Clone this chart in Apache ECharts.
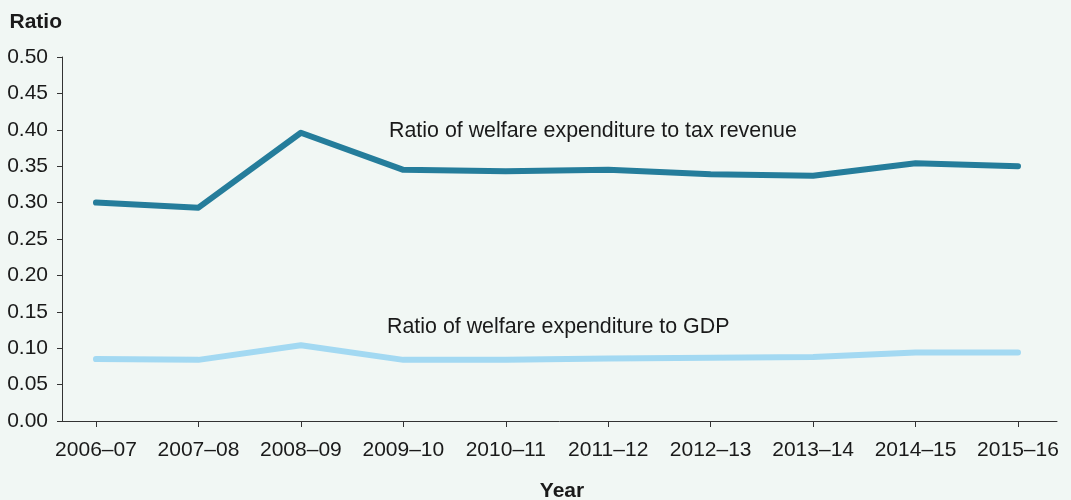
<!DOCTYPE html>
<html>
<head>
<meta charset="utf-8">
<script src="https://cdn.jsdelivr.net/npm/echarts@6/dist/echarts.min.js"></script>
<style>
html,body{margin:0;padding:0;background:#F1F7F4;}
#chart{width:1071px;height:500px;}
</style>
</head>
<body>
<div id="chart"></div>
<script>
var categories = ['2006\u201307','2007\u201308','2008\u201309','2009\u201310','2010\u201311','2011\u201312','2012\u201313','2013\u201314','2014\u201315','2015\u201316'];
var taxRatio = [0.300, 0.293, 0.396, 0.345, 0.343, 0.345, 0.339, 0.337, 0.354, 0.350];
var gdpRatio = [0.085, 0.084, 0.104, 0.084, 0.084, 0.086, 0.087, 0.088, 0.094, 0.094];
var seriesNames = ['Ratio of welfare expenditure to tax revenue', 'Ratio of welfare expenditure to GDP'];
var yTicks = {min: 0, max: 0.5, interval: 0.05};

var FONT = 'Liberation Sans, Arial, sans-serif';
var TXT = '#1a1a1a';
var AX = '#333333';

var chart = echarts.init(document.getElementById('chart'), null, {renderer: 'canvas'});
chart.setOption({
  backgroundColor: '#F1F7F4',
  animation: false,
  textStyle: {fontFamily: FONT},
  grid: [
    {left: 96, right: 53, top: 57, bottom: 79, containLabel: false, outerBoundsMode: 'none'},
    {left: 62, right: 14, top: 57, bottom: 79, containLabel: false, outerBoundsMode: 'none'}
  ],
  xAxis: [
    {
      type: 'category', gridIndex: 0, data: categories, boundaryGap: false,
      axisLine: {show: false},
      axisTick: {show: true, length: 6, alignWithLabel: true, lineStyle: {color: AX, width: 1}},
      axisLabel: {margin: 19, color: TXT, fontSize: 21, fontFamily: FONT, interval: 0},
      splitLine: {show: false}
    },
    {
      type: 'value', gridIndex: 1, min: 0, max: 1,
      axisLine: {show: true, lineStyle: {color: AX, width: 1}},
      axisTick: {show: false}, axisLabel: {show: false}, splitLine: {show: false},
      name: 'Year', nameLocation: 'middle', nameGap: 60,
      nameTextStyle: {color: TXT, fontSize: 21, fontWeight: 'bold', fontFamily: FONT, verticalAlign: 'top', padding: [0, 0, 0, 5]}
    }
  ],
  yAxis: [
    {
      type: 'value', gridIndex: 0, min: yTicks.min, max: yTicks.max, interval: yTicks.interval,
      offset: 34,
      axisLine: {show: true, lineStyle: {color: AX, width: 1}},
      axisTick: {show: true, length: 5, lineStyle: {color: AX, width: 1}},
      axisLabel: {margin: 14, color: TXT, fontSize: 21, fontFamily: FONT, formatter: function(v){return v.toFixed(2);}},
      splitLine: {show: false},
      name: 'Ratio', nameLocation: 'end', nameGap: 24,
      nameTextStyle: {color: TXT, fontSize: 21, fontWeight: 'bold', fontFamily: FONT, align: 'right'}
    },
    {
      type: 'value', gridIndex: 1, min: 0, max: 1, show: false
    }
  ],
  series: [
    {
      name: seriesNames[0], type: 'line', xAxisIndex: 0, yAxisIndex: 0,
      data: taxRatio, symbol: 'none', smooth: false,
      lineStyle: {color: '#257D9B', width: 6, cap: 'round', join: 'round'}
    },
    {
      name: seriesNames[1], type: 'line', xAxisIndex: 0, yAxisIndex: 0,
      data: gdpRatio, symbol: 'none', smooth: false,
      lineStyle: {color: '#A3D9F2', width: 6, cap: 'round', join: 'round'}
    }
  ],
  graphic: [
    {type: 'text', left: 389, top: 121, silent: true,
     style: {text: seriesNames[0], fill: TXT, font: '21.4px ' + FONT}},
    {type: 'text', left: 387, top: 317, silent: true,
     style: {text: seriesNames[1], fill: TXT, font: '21.4px ' + FONT}}
  ]
});
</script>
</body>
</html>
